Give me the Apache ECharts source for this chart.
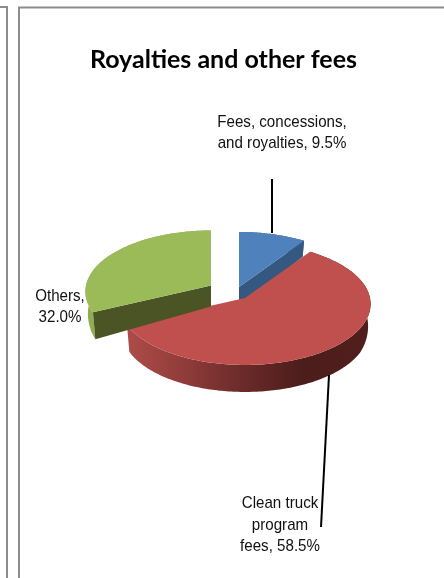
<!DOCTYPE html>
<html>
<head>
<meta charset="utf-8">
<style>html,body{margin:0;padding:0;background:#fff}#chart{width:444px;height:578px}</style>
<script src="https://cdn.jsdelivr.net/npm/echarts@6/dist/echarts.min.js"></script>
</head>
<body>
<div id="chart"></div>
<script>
// Share of royalties and other fees, in percent
const categories = ['Fees, concessions, and royalties', 'Clean truck program fees', 'Others'];
const shares = [9.5, 58.5, 32.0];
const labelLines = [
  ['Fees, concessions,', 'and royalties, 9.5%'],
  ['Clean truck', 'program', 'fees, 58.5%'],
  ['Others,', '32.0%']
];

// Exploded slice centres and surface colours
const sliceStyle = [
  { cx: 239, cy: 287, top: '#4f81bd', face: '#34587f', rim: '#3a618f', cutEnd: true },
  { cx: 245, cy: 298, top: '#c0504d', face: null, rim: null },
  { cx: 211, cy: 285.5, top: '#9bbb59', face: '#4a5424', rim: '#8fad50', cutEnd: false }
];
const labelStyle = [
  { x: 282, y: 133 },
  { x: 280, y: 525 },
  { x: 60, y: 307 }
];

// Perspective of the tilted disc
const RX = 125, RY = 60.4, K = 0.098;

function project(s, deg) {
  const a = deg * Math.PI / 180;
  const X = Math.sin(a), Y = -Math.cos(a);
  const d = 1 - K * Y;
  return { x: s.cx + RX * X / d, y: s.cy + RY * Y / d, Y };
}
function lower(s, p) {
  // The bottom face sits a little narrower and its drop grows towards the viewer
  const drop = p.Y < 0 ? 21 + 6 * p.Y : Math.min(27, 21 + 14 * p.Y);
  return [s.cx + (p.x - s.cx) * 0.98, p.y + drop];
}
function arc(s, from, to) {
  const pts = [];
  const n = Math.max(2, Math.ceil(to - from));
  for (let i = 0; i <= n; i++) pts.push(project(s, from + (to - from) * i / n));
  return pts;
}

const total = shares.reduce((a, b) => a + b, 0);

function renderSlice(params, api) {
  const i = params.dataIndex;
  const s = sliceStyle[i];
  let sum = 0;
  for (let j = 0; j < i; j++) sum += shares[j];
  const from = sum / total * 360;
  const to = (sum + api.value(0)) / total * 360;
  const rim = arc(s, from, to);
  const topPts = rim.map(p => [p.x, p.y]);
  const apex = { x: s.cx, y: s.cy, Y: 0 };
  const children = [];

  // Outer wall
  let rimFill = s.rim;
  if (i === 1) {
    rimFill = new echarts.graphic.LinearGradient(0, 0, 1, 0, [
      { offset: 0, color: '#ad4c49' },
      { offset: 0.25, color: '#8d3b39' },
      { offset: 0.47, color: '#6c2b29' },
      { offset: 0.72, color: '#4c1d1c' },
      { offset: 1, color: '#501f1d' }
    ]);
  }
  const wall = topPts.concat(rim.slice().reverse().map(p => lower(s, p)));
  children.push({ type: 'polygon', shape: { points: wall }, style: { fill: rimFill } });

  // Cut face that looks towards the viewer
  if (s.face) {
    const e = s.cutEnd ? rim[rim.length - 1] : rim[0];
    children.push({
      type: 'polygon',
      shape: { points: [[apex.x, apex.y], [e.x, e.y], lower(s, e), lower(s, apex)] },
      style: { fill: s.face }
    });
  }

  // Top surface
  children.push({
    type: 'polygon',
    shape: { points: [[apex.x, apex.y]].concat(topPts) },
    style: { fill: s.top }
  });
  return { type: 'group', children };
}

const frameColor = '#8c8c8c';
const frame = [
  [[0, 7], [7, 7], [7, 578]],
  [[19, 578], [19, 7.5], [444, 7.5]]
].map(points => ({
  type: 'polyline', silent: true,
  shape: { points },
  style: { fill: null, stroke: frameColor, lineWidth: 2 }
}));

const leaders = [
  [[272, 179], [272, 233]],
  [[329, 375], [321, 527]]
].map(points => ({
  type: 'polyline', silent: true, z: 20,
  shape: { points },
  style: { fill: null, stroke: '#000', lineWidth: 2 }
}));

// Slice labels use a tall face condensed sideways
const labels = labelLines.map((lines, i) => ({
  type: 'text', silent: true, z: 30,
  x: labelStyle[i].x, y: labelStyle[i].y,
  scaleX: 0.89,
  style: {
    text: lines.join('\n'),
    fill: '#111',
    font: '17px "Liberation Sans", Arial, sans-serif',
    lineHeight: 21.5,
    align: 'center',
    verticalAlign: 'middle'
  }
}));

const chart = echarts.init(document.getElementById('chart'), null, { renderer: 'canvas' });
chart.setOption({
  animation: false,
  backgroundColor: '#fff',
  title: {
    text: 'Royalties and other fees',
    left: 218.5, top: 42, textAlign: 'center',
    textStyle: { fontFamily: 'Lato', fontWeight: 'bold', fontSize: 25, color: '#000' }
  },
  graphic: frame.concat(leaders, labels),
  series: [{
    type: 'custom',
    name: 'Royalties and other fees',
    coordinateSystem: 'none',
    silent: true,
    renderItem: renderSlice,
    data: shares.map((v, i) => ({ name: categories[i], value: [v] }))
  }]
});
</script>
</body>
</html>
